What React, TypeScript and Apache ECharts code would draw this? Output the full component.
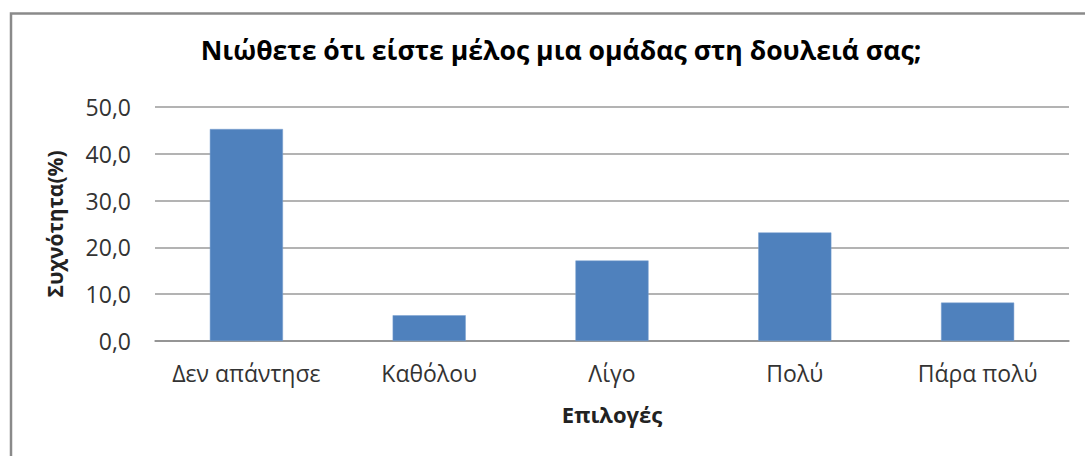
import React, { useEffect, useRef } from "react";
import * as echarts from "echarts";

const titleText = "Νιώθετε ότι είστε μέλος μια ομάδας στη δουλειά σας;";
const categories = ["Δεν απάντησε", "Καθόλου", "Λίγο", "Πολύ", "Πάρα πολύ"];
const values = [45.3, 5.5, 17.2, 23.2, 8.2];
const yAxisName = "Συχνότητα(%)";
const xAxisName = "Επιλογές";

const FONT = "'Open Sans', 'Noto Sans', 'DejaVu Sans', sans-serif";

export default function App() {
  const ref = useRef<HTMLDivElement>(null);
  useEffect(() => {
    if (!ref.current) return;
    const chart = echarts.init(ref.current, undefined, { renderer: "svg" });
    chart.setOption({
      animation: false,
      backgroundColor: "#ffffff",
      textStyle: { fontFamily: FONT },
      title: {
        text: titleText,
        left: 556,
        top: 31,
        textAlign: "center",
        textStyle: { fontFamily: FONT, fontSize: 26.6, fontWeight: "bold", color: "#000" },
      },
      graphic: [
        {
          type: "rect",
          shape: { x: 11, y: 13.5, width: 1090, height: 470 },
          style: { fill: "none", stroke: "#8a8a8a", lineWidth: 2.5 },
          silent: true,
          z: 100,
        },
      ],
      grid: { left: 155, right: 16, top: 107, bottom: 115, containLabel: false },
      xAxis: {
        type: "category",
        data: categories,
        name: xAxisName,
        nameLocation: "middle",
        nameGap: 62,
        nameTextStyle: { fontFamily: FONT, fontSize: 22, fontWeight: "bold", color: "#222" },
        axisLine: { lineStyle: { color: "#8c8c8c", width: 1.5 } },
        axisTick: { show: false },
        axisLabel: { interval: 0, fontFamily: FONT, fontSize: 23, color: "#333", margin: 20 },
      },
      yAxis: {
        type: "value",
        min: 0,
        max: 50,
        interval: 10,
        name: yAxisName,
        nameLocation: "middle",
        nameGap: 90,
        nameRotate: 90,
        nameTextStyle: { fontFamily: FONT, fontSize: 21, fontWeight: "bold", color: "#222" },
        axisLine: { show: false },
        axisTick: { show: false },
        axisLabel: {
          fontFamily: FONT,
          fontSize: 23,
          color: "#333",
          margin: 24,
          formatter: (v: number) => v.toFixed(1).replace(".", ","),
        },
        splitLine: { lineStyle: { color: "#9a9a9a", width: 1.5 } },
      },
      series: [
        {
          type: "bar",
          data: values,
          barWidth: "40%",
          itemStyle: { color: "#4F81BD", borderColor: "#7aa0d0", borderWidth: 0.5 },
        },
      ],
    });
    return () => chart.dispose();
  }, []);
  return (
    <div
      ref={ref}
      style={{ position: "absolute", left: 0, top: 0, width: 1085, height: 456 }}
    />
  );
}
